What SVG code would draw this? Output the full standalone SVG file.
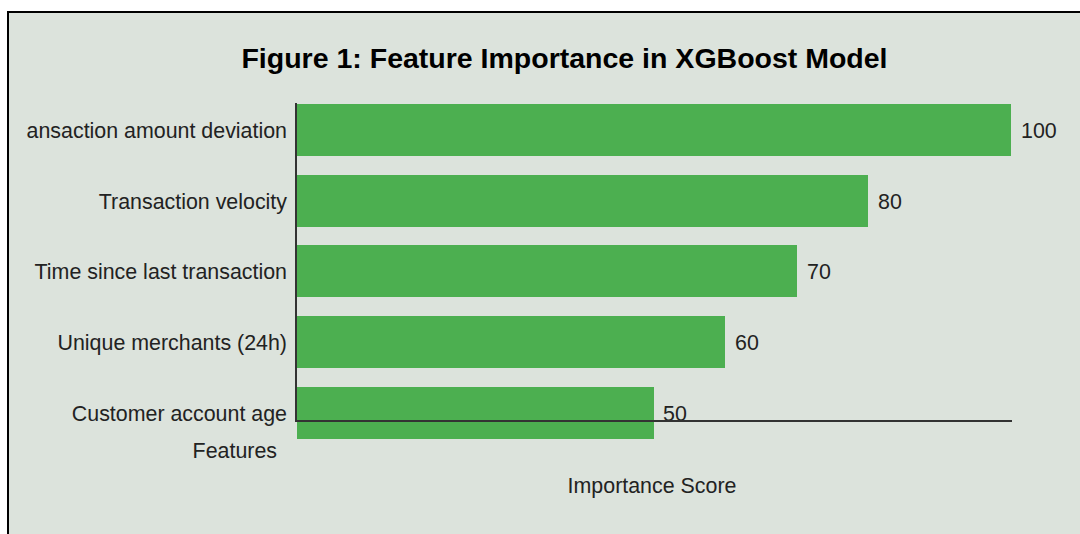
<svg xmlns="http://www.w3.org/2000/svg" width="1080" height="534" viewBox="0 0 1080 534">
<style>
.bar{fill:#4caf50}
.lbl{font-family:"Liberation Sans",Arial,sans-serif;font-size:21.4px;fill:#222}
.end{text-anchor:end}
.mid{text-anchor:middle}
.title{font-family:"Liberation Sans",Arial,sans-serif;font-size:28.5px;font-weight:bold;fill:#000;text-anchor:middle}
.axis{stroke:#333;stroke-width:2;fill:none}
</style>
<rect x="0" y="0" width="1080" height="534" fill="#ffffff"/>
<rect x="8" y="12" width="1090" height="540" fill="#dce3dc" stroke="#000" stroke-width="2"/>
<text class="title" x="564.5" y="68">Figure 1: Feature Importance in XGBoost Model</text>
<g id="bar-transaction-amount-deviation">
<rect class="bar" x="297" y="104" width="714" height="52"/>
<text class="lbl end" x="287" y="138">ansaction amount deviation</text>
<text class="lbl" x="1021" y="138">100</text>
</g>
<g id="bar-transaction-velocity">
<rect class="bar" x="297" y="175" width="571" height="52"/>
<text class="lbl end" x="287" y="208.5">Transaction velocity</text>
<text class="lbl" x="878" y="208.5">80</text>
</g>
<g id="bar-time-since-last">
<rect class="bar" x="297" y="245" width="500" height="52"/>
<text class="lbl end" x="287" y="279">Time since last transaction</text>
<text class="lbl" x="807" y="279">70</text>
</g>
<g id="bar-unique-merchants">
<rect class="bar" x="297" y="316" width="428" height="52"/>
<text class="lbl end" x="287" y="350">Unique merchants (24h)</text>
<text class="lbl" x="735" y="350">60</text>
</g>
<g id="bar-customer-account-age">
<rect class="bar" x="297" y="387" width="357" height="52"/>
<text class="lbl end" x="287" y="421">Customer account age</text>
<text class="lbl" x="663" y="421">50</text>
</g>
<g id="axes">
<line class="axis" x1="296" y1="103" x2="296" y2="421"/>
<line class="axis" x1="295" y1="421" x2="1012" y2="421"/>
</g>
<text class="lbl end" x="277" y="458">Features</text>
<text class="lbl mid" x="652" y="493">Importance Score</text>
</svg>
